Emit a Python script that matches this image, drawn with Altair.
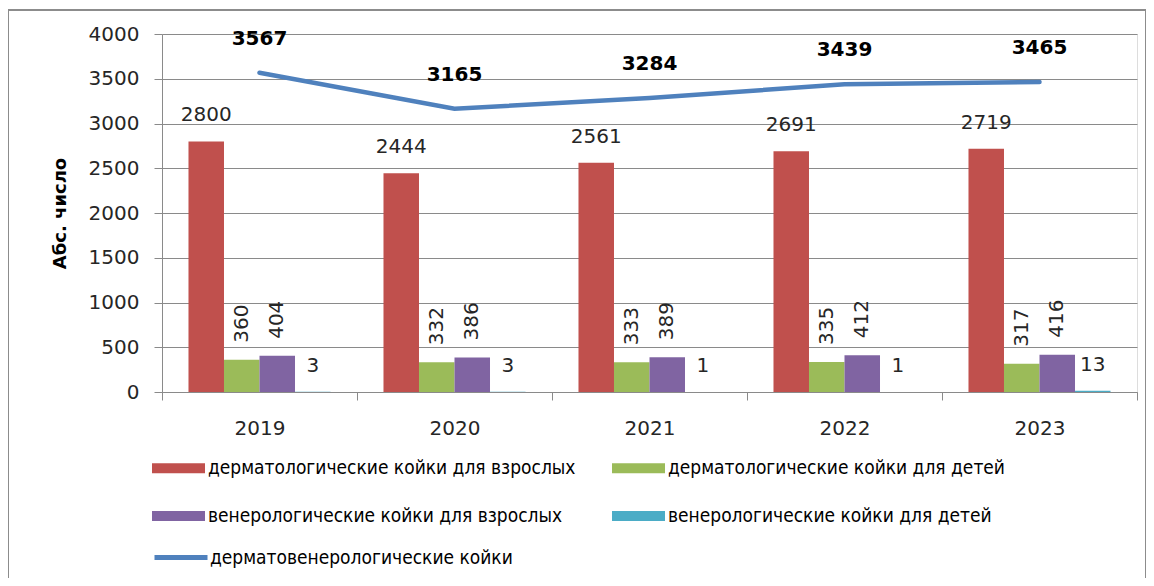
import altair as alt
import pandas as pd

years = ["2019", "2020", "2021", "2022", "2023"]
derm_adult = [2800, 2444, 2561, 2691, 2719]
derm_child = [360, 332, 333, 335, 317]
ven_adult = [404, 386, 389, 412, 416]
ven_child = [3, 3, 1, 1, 13]
total_beds = [3567, 3165, 3284, 3439, 3465]

series_names = [
    "дерматологические койки для взрослых",
    "дерматологические койки для детей",
    "венерологические койки для взрослых",
    "венерологические койки для детей",
]
line_name = "дерматовенерологические койки"
bar_colors = ["#C0504D", "#9BBB59", "#8064A2", "#4BACC6"]
line_color = "#4F81BD"

# legend is filled column by column, so list it in that order
legend_order = [series_names[0], series_names[2], series_names[1], series_names[3]]
legend_colors = [bar_colors[0], bar_colors[2], bar_colors[1], bar_colors[3]]

rows = []
for name, vals in zip(series_names, [derm_adult, derm_child, ven_adult, ven_child]):
    for y, v in zip(years, vals):
        rows.append({"year": y, "series": name, "value": v})
bars_df = pd.DataFrame(rows)
line_df = pd.DataFrame({"year": years, "value": total_beds, "series": line_name})
frame_df = pd.DataFrame({"k": [0]})

FONT = "DejaVu Sans"
LFONT = "DejaVu Sans Condensed"
GRID = "#8a8a8a"

x_enc = alt.X(
    "year:N",
    sort=years,
    title=None,
    scale=alt.Scale(paddingInner=0, paddingOuter=0),
    axis=alt.Axis(
        labelAngle=0, labelFont=FONT, labelFontSize=20, labelColor="#262626",
        labelPadding=18, tickBand="extent", tickSize=8, tickColor=GRID,
        domainColor=GRID, grid=False,
    ),
)
y_enc = alt.Y(
    "value:Q",
    title="Абс. число",
    scale=alt.Scale(domain=[0, 4000], nice=False),
    axis=alt.Axis(
        values=list(range(0, 4001, 500)), format="d", labelFont=FONT, labelFontSize=20,
        labelColor="#262626", labelPadding=15, tickSize=8, tickColor=GRID,
        domainColor=GRID, gridColor=GRID, gridWidth=1,
        titleFont=FONT, titleFontSize=18, titleFontWeight="bold", titleColor="#000000",
        titleAngle=270, titleX=-102, titleY=179, titleAlign="center", titleBaseline="middle",
    ),
)
xoff = alt.XOffset(
    "series:N", sort=series_names,
    scale=alt.Scale(paddingInner=0, paddingOuter=0.746),
)

rect_path = "M-1,-0.19L1,-0.19L1,0.19L-1,0.19Z"

bars = alt.Chart(bars_df).mark_bar().encode(
    x=x_enc, y=y_enc, xOffset=xoff,
    color=alt.Color(
        "series:N", sort=legend_order,
        scale=alt.Scale(domain=legend_order, range=legend_colors),
        legend=alt.Legend(
            title=None, orient="none", legendX=-10, legendY=407.5, columns=2,
            columnPadding=36, rowPadding=11, padding=0,
            symbolType=rect_path, symbolSize=2809, symbolStrokeWidth=0,
            labelFont=LFONT, labelFontSize=19, labelColor="#000000",
            labelLimit=500, labelOffset=3,
        ),
    ),
)

base_text = alt.Chart(bars_df)
lbl_red = base_text.transform_filter(
    alt.datum.series == series_names[0]
).mark_text(font=FONT, fontSize=20, dy=-26, color="#262626").encode(
    x=x_enc, y=y_enc, xOffset=xoff, text="value:Q"
)
lbl_rot = base_text.transform_filter(
    (alt.datum.series == series_names[1]) | (alt.datum.series == series_names[2])
).mark_text(
    font=FONT, fontSize=20, angle=270, align="left", baseline="middle", dx=17, color="#262626"
).encode(x=x_enc, y=y_enc, xOffset=xoff, text="value:Q")
lbl_cyan = base_text.transform_filter(
    alt.datum.series == series_names[3]
).mark_text(font=FONT, fontSize=20, dy=-26, color="#262626").encode(
    x=x_enc, y=y_enc, xOffset=xoff, text="value:Q"
)

line = alt.Chart(line_df).mark_line(strokeWidth=4.5, strokeCap="round").encode(
    x=x_enc, y=y_enc,
    stroke=alt.Stroke(
        "series:N",
        scale=alt.Scale(domain=[line_name], range=[line_color]),
        legend=alt.Legend(
            title=None, orient="none", legendX=-10, legendY=494.5, padding=0,
            symbolType="M-1,0L1,0", symbolSize=2809, symbolStrokeWidth=5,
            labelFont=LFONT, labelFontSize=19, labelColor="#000000",
            labelLimit=500, labelOffset=0,
        ),
    ),
)
line_lbl = alt.Chart(line_df).mark_text(
    font=FONT, fontSize=20, fontWeight="bold", dy=-34, color="#000000"
).encode(x=x_enc, y=y_enc, text="value:Q")

frame = alt.Chart(frame_df).mark_rect(
    fill=None, stroke="#8c8c8c", strokeWidth=2
).encode(
    x=alt.value(-154), x2=alt.value(984), y=alt.value(-24), y2=alt.value(580)
)

chart = alt.layer(frame, bars, lbl_red, lbl_rot, lbl_cyan, line, line_lbl).properties(
    width=975, height=358,
    autosize=alt.AutoSizeParams(type="none"),
    padding={"left": 154, "top": 26, "right": 9, "bottom": 186},
).configure_view(stroke=None).configure(background="white")

chart.save("out.html", embed_options={"renderer": "svg", "actions": False})
